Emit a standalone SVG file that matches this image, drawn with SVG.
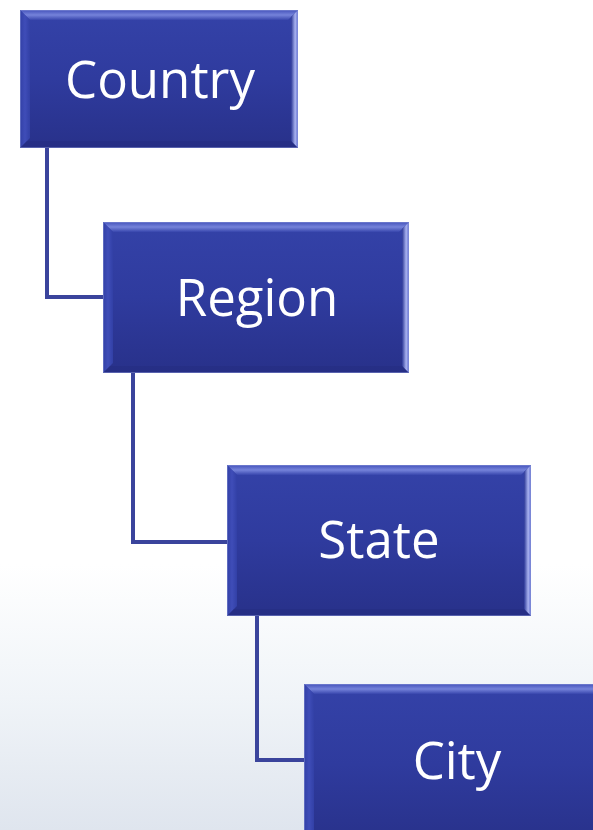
<svg xmlns="http://www.w3.org/2000/svg" width="593" height="830" viewBox="0 0 593 830">
  <defs>
    <linearGradient id="bg" x1="0" y1="0" x2="0" y2="1">
      <stop offset="0" stop-color="#ffffff"/>
      <stop offset="0.68" stop-color="#ffffff"/>
      <stop offset="0.84" stop-color="#f0f4f8"/>
      <stop offset="1" stop-color="#dfe5ee"/>
    </linearGradient>
    <linearGradient id="face" x1="0" y1="0" x2="0" y2="1">
      <stop offset="0" stop-color="#3442a8"/>
      <stop offset="0.5" stop-color="#2f3b9e"/>
      <stop offset="1" stop-color="#28318a"/>
    </linearGradient>
    <linearGradient id="topBevel" x1="0" y1="0" x2="0" y2="1">
      <stop offset="0" stop-color="#4452bb"/>
      <stop offset="0.5" stop-color="#7583da"/>
      <stop offset="1" stop-color="#3846ad"/>
    </linearGradient>
    <linearGradient id="leftBevel" x1="0" y1="0" x2="1" y2="0">
      <stop offset="0" stop-color="#3240a6"/>
      <stop offset="0.5" stop-color="#3f4db8"/>
      <stop offset="1" stop-color="#3240a6"/>
    </linearGradient>
    <linearGradient id="rightBevel" x1="0" y1="0" x2="1" y2="0">
      <stop offset="0" stop-color="#2c3898"/>
      <stop offset="0.6" stop-color="#a9b3f0"/>
      <stop offset="1" stop-color="#5e6bd0"/>
    </linearGradient>
  </defs>
  <style>
    .face { fill: url(#face); }
    .bt { fill: url(#topBevel); }
    .bl { fill: url(#leftBevel); }
    .br { fill: url(#rightBevel); }
    .bb { fill: #242c80; opacity: 0.5; }
    .edge { fill: none; stroke: #8a95d8; stroke-width: 1; opacity: 0.5; }
    .label { font-family: "Open Sans", "Noto Sans", "DejaVu Sans", sans-serif; font-size: 51px; fill: #ffffff; text-anchor: middle; }
    .link { fill: none; stroke: #3a449c; stroke-width: 4; stroke-linejoin: miter; }
  </style>

  <rect x="0" y="0" width="593" height="830" fill="url(#bg)"/>

  <g id="connectors">
    <path class="link" d="M47 148 V297 H105"/>
    <path class="link" d="M133 373 V542 H229"/>
    <path class="link" d="M257 616 V760 H306"/>
  </g>

  <g id="country">
    <rect class="face" x="20" y="10" width="278" height="138"/>
    <polygon class="bt" points="20,10 298,10 288,20 30,20"/>
    <polygon class="bl" points="20,10 30,20 30,138 20,148"/>
    <polygon class="br" points="298,10 298,148 291,141 291,17"/>
    <polygon class="bb" points="20,148 298,148 291,141 27,141"/>
    <rect class="edge" x="20.5" y="10.5" width="277" height="137"/>
    <text class="label" x="160" y="98">Country</text>
  </g>

  <g id="region">
    <rect class="face" x="103" y="222" width="306" height="151"/>
    <polygon class="bt" points="103,222 409,222 399,232 113,232"/>
    <polygon class="bl" points="103,222 113,232 113,363 103,373"/>
    <polygon class="br" points="409,222 409,373 402,366 402,229"/>
    <polygon class="bb" points="103,373 409,373 402,366 110,366"/>
    <rect class="edge" x="103.5" y="222.5" width="305" height="150"/>
    <text class="label" x="257" y="316">Region</text>
  </g>

  <g id="state">
    <rect class="face" x="227" y="465" width="304" height="151"/>
    <polygon class="bt" points="227,465 531,465 521,475 237,475"/>
    <polygon class="bl" points="227,465 237,475 237,606 227,616"/>
    <polygon class="br" points="531,465 531,616 524,609 524,472"/>
    <polygon class="bb" points="227,616 531,616 524,609 234,609"/>
    <rect class="edge" x="227.5" y="465.5" width="303" height="150"/>
    <text class="label" x="379" y="558">State</text>
  </g>

  <g id="city">
    <rect class="face" x="304" y="684" width="300" height="160"/>
    <polygon class="bt" points="304,684 604,684 594,694 314,694"/>
    <polygon class="bl" points="304,684 314,694 314,840 304,850"/>
    <rect class="edge" x="304.5" y="684.5" width="300" height="160"/>
    <text class="label" x="457" y="779">City</text>
  </g>
</svg>
